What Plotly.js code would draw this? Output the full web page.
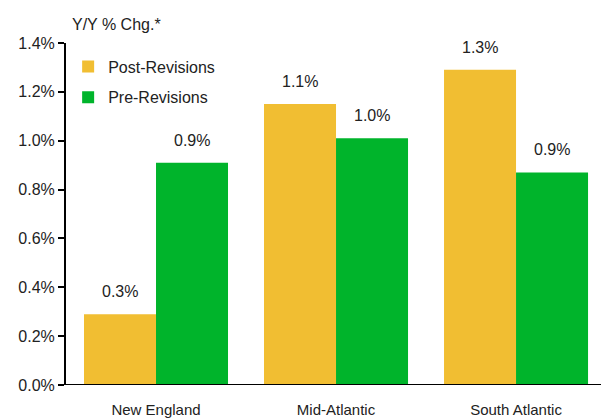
<!DOCTYPE html>
<html><head><meta charset="utf-8">
<script src="https://cdn.plot.ly/plotly-3.0.1.min.js"></script>
<style>html,body{margin:0;padding:0;background:#fff}#chart{width:601px;height:418px}</style>
</head><body><div id="chart"></div>
<script>
const categories = ["New England", "Mid-Atlantic", "South Atlantic"];
const postRevisions = [0.29, 1.15, 1.29];
const preRevisions = [0.91, 1.01, 0.87];
const seriesNames = ["Post-Revisions", "Pre-Revisions"];
const yTicks = [0, 0.2, 0.4, 0.6, 0.8, 1.0, 1.2, 1.4];
const yTickLabels = yTicks.map(v => v.toFixed(1) + "%");
const yTitle = "Y/Y % Chg.*";

const FONT = "Liberation Sans, Arial, sans-serif";
const colors = ["#F1BE32", "#00B42B"];

const traces = [postRevisions, preRevisions].map((vals, i) => ({
  type: "bar", x: categories, y: vals, name: seriesNames[i],
  legendgroup: "g" + i,
  marker: {color: colors[i], line: {width: 0}},
  hoverinfo: "skip"
}));

const annotations = [];
[postRevisions, preRevisions].forEach((vals, i) => {
  vals.forEach((v, j) => {
    annotations.push({
      x: categories[j], y: v, xref: "x", yref: "y",
      text: v.toFixed(1) + "%", showarrow: false,
      xanchor: "center", yanchor: "bottom",
      xshift: i === 0 ? -36 : 36, yshift: 12,
      font: {family: FONT, size: 16, color: "#222"}
    });
  });
});
annotations.push({
  xref: "paper", yref: "paper", x: 0.008, y: 1.053,
  xanchor: "left", yanchor: "middle", showarrow: false,
  text: yTitle, font: {family: FONT, size: 16, color: "#222"}
});

const layout = {
  width: 601, height: 418,
  margin: {l: 66, r: 0, t: 43, b: 33},
  paper_bgcolor: "#fff", plot_bgcolor: "#fff",
  font: {family: FONT, size: 16, color: "#222"},
  barmode: "group", bargap: 0.2, bargroupgap: 0,
  showlegend: true,
  legend: {x: 0.004, y: 0.981, xanchor: "left", yanchor: "top",
           bgcolor: "rgba(0,0,0,0)", font: {family: FONT, size: 16, color: "#222"},
           tracegroupgap: 7, traceorder: "grouped"},
  xaxis: {type: "category", range: [-0.5, 2.472], showline: false, ticks: "",
          showgrid: false, zeroline: false, ticklabelstandoff: 14,
          tickfont: {family: FONT, size: 15, color: "#222"}},
  yaxis: {range: [0, 1.4], tickmode: "array", tickvals: yTicks, ticktext: yTickLabels,
          showgrid: false, zeroline: false, showline: true, linecolor: "#000", linewidth: 2,
          ticks: "outside", ticklen: 6, tickwidth: 2, tickcolor: "#000",
          tickfont: {family: FONT, size: 16, color: "#222"}},
  shapes: [{type: "line", xref: "paper", yref: "y", x0: 0, x1: 1, y0: 0, y1: 0,
            line: {color: "#000", width: 2}}],
  annotations: annotations
};
Plotly.newPlot("chart", traces, layout, {displayModeBar: false, staticPlot: true});
</script></body></html>
